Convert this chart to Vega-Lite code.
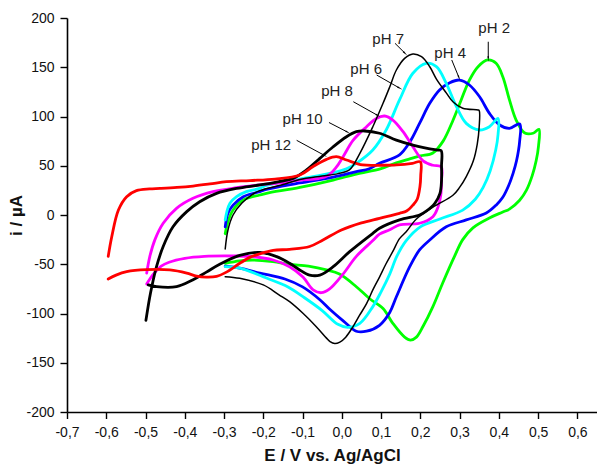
{
"$schema": "https://vega.github.io/schema/vega-lite/v6.json",
"width": 530, "height": 394,
"autosize": {"type": "none"},
"padding": {"left": 67, "top": 18, "right": 0, "bottom": 56},
"config": {"view": {"stroke": null}, "font": "Liberation Sans",
 "axis": {"domainColor": "#000", "domainWidth": 1.6, "tickColor": "#000", "tickWidth": 1.4, "labelColor": "#111", "labelFont": "Liberation Sans", "labelFontSize": 14, "titleFont": "Liberation Sans", "titleFontSize": 17, "titleFontWeight": "bold", "titleColor": "#111", "grid": false, "labelOverlap": false, "labelFlush": false}},
"datasets": {
"ann": [
 {"label": "pH 2", "tx": 0.388, "ty": 190, "x1": 0.373, "y1": 175.9, "x2": 0.373, "y2": 159.4, "g": "a180"},
 {"label": "pH 4", "tx": 0.276, "ty": 164.5, "x1": 0.28, "y1": 157.4, "x2": 0.298, "y2": 139.9, "g": "a157"},
 {"label": "pH 7", "tx": 0.118, "ty": 178.7, "x1": 0.1355, "y1": 174.3, "x2": 0.16, "y2": 164.6, "g": "a135"},
 {"label": "pH 6", "tx": 0.062, "ty": 148.2, "x1": 0.0888, "y1": 142.1, "x2": 0.146, "y2": 129.1, "g": "a118"},
 {"label": "pH 8", "tx": -0.012, "ty": 125.4, "x1": 0.0293, "y1": 115.0, "x2": 0.0906, "y2": 101.3, "g": "a118"},
 {"label": "pH 10", "tx": -0.1, "ty": 97.5, "x1": -0.0327, "y1": 93.9, "x2": 0.014, "y2": 84.3, "g": "a118"},
 {"label": "pH 12", "tx": -0.18, "ty": 70.6, "x1": -0.115, "y1": 75.8, "x2": -0.0451, "y2": 60.7, "g": "a118"}
],
"cv": [
{"ph":"pH 2","E":-0.297,"i":-19},{"ph":"pH 2","E":-0.29,"i":-6.8},{"ph":"pH 2","E":-0.277,"i":5},{"ph":"pH 2","E":-0.251,"i":15.2},{"ph":"pH 2","E":-0.209,"i":20.3},{"ph":"pH 2","E":-0.192,"i":22},{"ph":"pH 2","E":-0.107,"i":28},{"ph":"pH 2","E":-0.022,"i":35.5},{"ph":"pH 2","E":0.037,"i":41.6},{"ph":"pH 2","E":0.1,"i":47},{"ph":"pH 2","E":0.139,"i":53},{"ph":"pH 2","E":0.173,"i":57},{"ph":"pH 2","E":0.2,"i":60},{"ph":"pH 2","E":0.232,"i":63},{"ph":"pH 2","E":0.258,"i":75},{"ph":"pH 2","E":0.283,"i":96},{"ph":"pH 2","E":0.304,"i":116.8},{"ph":"pH 2","E":0.325,"i":137},{"ph":"pH 2","E":0.347,"i":150.6},{"ph":"pH 2","E":0.372,"i":157.4},{"ph":"pH 2","E":0.393,"i":154},{"ph":"pH 2","E":0.41,"i":140.4},{"ph":"pH 2","E":0.427,"i":116.8},{"ph":"pH 2","E":0.444,"i":96.4},{"ph":"pH 2","E":0.465,"i":83.5},{"ph":"pH 2","E":0.487,"i":83},{"ph":"pH 2","E":0.502,"i":87},
{"ph":"pH 2","E":0.501,"i":70},{"ph":"pH 2","E":0.495,"i":55},{"ph":"pH 2","E":0.485,"i":40},{"ph":"pH 2","E":0.47,"i":25},{"ph":"pH 2","E":0.453,"i":15},{"ph":"pH 2","E":0.427,"i":6},{"ph":"pH 2","E":0.41,"i":3},{"ph":"pH 2","E":0.376,"i":-3},{"ph":"pH 2","E":0.334,"i":-13},{"ph":"pH 2","E":0.308,"i":-25},{"ph":"pH 2","E":0.287,"i":-42},{"ph":"pH 2","E":0.257,"i":-69},{"ph":"pH 2","E":0.232,"i":-93},{"ph":"pH 2","E":0.207,"i":-113},{"ph":"pH 2","E":0.19,"i":-124},{"ph":"pH 2","E":0.175,"i":-127},{"ph":"pH 2","E":0.16,"i":-124},{"ph":"pH 2","E":0.13,"i":-110},{"ph":"pH 2","E":0.105,"i":-95},{"ph":"pH 2","E":0.071,"i":-85},{"ph":"pH 2","E":0.037,"i":-72.8},{"ph":"pH 2","E":-0.006,"i":-60},{"ph":"pH 2","E":-0.039,"i":-55.8},{"ph":"pH 2","E":-0.085,"i":-52},{"ph":"pH 2","E":-0.133,"i":-50},{"ph":"pH 2","E":-0.175,"i":-47.4},{"ph":"pH 2","E":-0.226,"i":-45.7},{"ph":"pH 2","E":-0.26,"i":-46.5},{"ph":"pH 2","E":-0.297,"i":-49},
{"ph":"pH 4","E":-0.297,"i":-12},{"ph":"pH 4","E":-0.29,"i":1.7},{"ph":"pH 4","E":-0.277,"i":10},{"ph":"pH 4","E":-0.251,"i":18.6},{"ph":"pH 4","E":-0.209,"i":23.7},{"ph":"pH 4","E":-0.192,"i":26},{"ph":"pH 4","E":-0.107,"i":32.5},{"ph":"pH 4","E":-0.022,"i":38.5},{"ph":"pH 4","E":0.037,"i":44},{"ph":"pH 4","E":0.07,"i":47},{"ph":"pH 4","E":0.096,"i":52.5},{"ph":"pH 4","E":0.147,"i":61},{"ph":"pH 4","E":0.173,"i":74},{"ph":"pH 4","E":0.198,"i":93},{"ph":"pH 4","E":0.224,"i":113.4},{"ph":"pH 4","E":0.249,"i":127},{"ph":"pH 4","E":0.275,"i":134.3},{"ph":"pH 4","E":0.3,"i":137},{"ph":"pH 4","E":0.325,"i":132},{"ph":"pH 4","E":0.351,"i":120},{"ph":"pH 4","E":0.376,"i":103.2},{"ph":"pH 4","E":0.402,"i":91.4},{"ph":"pH 4","E":0.427,"i":88},{"ph":"pH 4","E":0.453,"i":92.4},
{"ph":"pH 4","E":0.453,"i":75},{"ph":"pH 4","E":0.445,"i":55},{"ph":"pH 4","E":0.436,"i":42},{"ph":"pH 4","E":0.425,"i":30},{"ph":"pH 4","E":0.41,"i":18},{"ph":"pH 4","E":0.393,"i":10},{"ph":"pH 4","E":0.368,"i":2},{"ph":"pH 4","E":0.317,"i":-5},{"ph":"pH 4","E":0.266,"i":-12},{"ph":"pH 4","E":0.224,"i":-25.4},{"ph":"pH 4","E":0.198,"i":-35.5},{"ph":"pH 4","E":0.173,"i":-52.5},{"ph":"pH 4","E":0.139,"i":-83},{"ph":"pH 4","E":0.122,"i":-99},{"ph":"pH 4","E":0.096,"i":-112},{"ph":"pH 4","E":0.063,"i":-118},{"ph":"pH 4","E":0.037,"i":-118},{"ph":"pH 4","E":0.005,"i":-108},{"ph":"pH 4","E":-0.03,"i":-96},{"ph":"pH 4","E":-0.056,"i":-86},{"ph":"pH 4","E":-0.1,"i":-73},{"ph":"pH 4","E":-0.145,"i":-65},{"ph":"pH 4","E":-0.209,"i":-59},{"ph":"pH 4","E":-0.26,"i":-54},{"ph":"pH 4","E":-0.297,"i":-52},
{"ph":"pH 6","E":-0.297,"i":-5},{"ph":"pH 6","E":-0.293,"i":3},{"ph":"pH 6","E":-0.285,"i":11.9},{"ph":"pH 6","E":-0.268,"i":18.6},{"ph":"pH 6","E":-0.243,"i":23.7},{"ph":"pH 6","E":-0.209,"i":27},{"ph":"pH 6","E":-0.192,"i":30},{"ph":"pH 6","E":-0.107,"i":36.5},{"ph":"pH 6","E":-0.022,"i":43},{"ph":"pH 6","E":0.012,"i":47},{"ph":"pH 6","E":0.037,"i":52.5},{"ph":"pH 6","E":0.079,"i":66},{"ph":"pH 6","E":0.113,"i":86.3},{"ph":"pH 6","E":0.147,"i":116.8},{"ph":"pH 6","E":0.181,"i":143.9},{"ph":"pH 6","E":0.215,"i":154},{"ph":"pH 6","E":0.241,"i":150.6},{"ph":"pH 6","E":0.266,"i":133.7},{"ph":"pH 6","E":0.292,"i":110},{"ph":"pH 6","E":0.317,"i":93},{"ph":"pH 6","E":0.351,"i":86.3},{"ph":"pH 6","E":0.376,"i":89.6},{"ph":"pH 6","E":0.398,"i":98},
{"ph":"pH 6","E":0.398,"i":82},{"ph":"pH 6","E":0.392,"i":66},{"ph":"pH 6","E":0.378,"i":45},{"ph":"pH 6","E":0.36,"i":28},{"ph":"pH 6","E":0.34,"i":16},{"ph":"pH 6","E":0.308,"i":5},{"ph":"pH 6","E":0.25,"i":-4},{"ph":"pH 6","E":0.2,"i":-12},{"ph":"pH 6","E":0.164,"i":-26},{"ph":"pH 6","E":0.14,"i":-42},{"ph":"pH 6","E":0.122,"i":-60},{"ph":"pH 6","E":0.1,"i":-78},{"ph":"pH 6","E":0.079,"i":-93},{"ph":"pH 6","E":0.046,"i":-110},{"ph":"pH 6","E":0.015,"i":-114},{"ph":"pH 6","E":-0.01,"i":-111},{"ph":"pH 6","E":-0.05,"i":-97},{"ph":"pH 6","E":-0.095,"i":-84},{"ph":"pH 6","E":-0.137,"i":-73},{"ph":"pH 6","E":-0.192,"i":-64},{"ph":"pH 6","E":-0.26,"i":-54},{"ph":"pH 6","E":-0.297,"i":-52.5},
{"ph":"pH 7","E":-0.297,"i":-34.5},{"ph":"pH 7","E":-0.29,"i":-15.2},{"ph":"pH 7","E":-0.277,"i":0},{"ph":"pH 7","E":-0.255,"i":11.9},{"ph":"pH 7","E":-0.23,"i":20.3},{"ph":"pH 7","E":-0.209,"i":24.7},{"ph":"pH 7","E":-0.15,"i":31},{"ph":"pH 7","E":-0.107,"i":36},{"ph":"pH 7","E":-0.05,"i":39.5},{"ph":"pH 7","E":-0.01,"i":42},{"ph":"pH 7","E":0.02,"i":46},{"ph":"pH 7","E":0.046,"i":62.6},{"ph":"pH 7","E":0.079,"i":89.6},{"ph":"pH 7","E":0.105,"i":113.4},{"ph":"pH 7","E":0.122,"i":130},{"ph":"pH 7","E":0.139,"i":147.2},{"ph":"pH 7","E":0.16,"i":159},{"ph":"pH 7","E":0.181,"i":163.5},{"ph":"pH 7","E":0.203,"i":160.7},{"ph":"pH 7","E":0.224,"i":150.5},{"ph":"pH 7","E":0.241,"i":138},{"ph":"pH 7","E":0.266,"i":124},{"ph":"pH 7","E":0.283,"i":115},{"ph":"pH 7","E":0.308,"i":108.3},{"ph":"pH 7","E":0.347,"i":106.6},{"ph":"pH 7","E":0.35,"i":106},
{"ph":"pH 7","E":0.35,"i":90},{"ph":"pH 7","E":0.345,"i":72},{"ph":"pH 7","E":0.335,"i":55},{"ph":"pH 7","E":0.317,"i":39},{"ph":"pH 7","E":0.3,"i":28},{"ph":"pH 7","E":0.283,"i":20},{"ph":"pH 7","E":0.232,"i":8},{"ph":"pH 7","E":0.19,"i":-4},{"ph":"pH 7","E":0.164,"i":-17},{"ph":"pH 7","E":0.147,"i":-24},{"ph":"pH 7","E":0.13,"i":-37},{"ph":"pH 7","E":0.112,"i":-50},{"ph":"pH 7","E":0.096,"i":-63},{"ph":"pH 7","E":0.079,"i":-76},{"ph":"pH 7","E":0.063,"i":-90},{"ph":"pH 7","E":0.045,"i":-102},{"ph":"pH 7","E":0.029,"i":-113},{"ph":"pH 7","E":0.01,"i":-124},{"ph":"pH 7","E":-0.005,"i":-129},{"ph":"pH 7","E":-0.018,"i":-130.5},{"ph":"pH 7","E":-0.03,"i":-128.5},{"ph":"pH 7","E":-0.039,"i":-125},{"ph":"pH 7","E":-0.065,"i":-113.4},{"ph":"pH 7","E":-0.099,"i":-99.8},{"ph":"pH 7","E":-0.133,"i":-88},{"ph":"pH 7","E":-0.16,"i":-81},{"ph":"pH 7","E":-0.2,"i":-71},{"ph":"pH 7","E":-0.26,"i":-64.3},{"ph":"pH 7","E":-0.297,"i":-62.6},
{"ph":"pH 8","E":-0.497,"i":-59},{"ph":"pH 8","E":-0.489,"i":-42},{"ph":"pH 8","E":-0.476,"i":-25},{"ph":"pH 8","E":-0.455,"i":-8.4},{"ph":"pH 8","E":-0.421,"i":6.8},{"ph":"pH 8","E":-0.379,"i":17},{"ph":"pH 8","E":-0.328,"i":23.7},{"ph":"pH 8","E":-0.268,"i":27.7},{"ph":"pH 8","E":-0.209,"i":30.5},{"ph":"pH 8","E":-0.15,"i":33},{"ph":"pH 8","E":-0.107,"i":35.5},{"ph":"pH 8","E":-0.06,"i":37},{"ph":"pH 8","E":-0.035,"i":40},{"ph":"pH 8","E":-0.015,"i":48},{"ph":"pH 8","E":0.003,"i":59},{"ph":"pH 8","E":0.029,"i":76},{"ph":"pH 8","E":0.063,"i":89.6},{"ph":"pH 8","E":0.088,"i":98},{"ph":"pH 8","E":0.109,"i":100.5},{"ph":"pH 8","E":0.13,"i":96.4},{"ph":"pH 8","E":0.156,"i":84.6},{"ph":"pH 8","E":0.181,"i":69.3},{"ph":"pH 8","E":0.207,"i":55},{"ph":"pH 8","E":0.232,"i":50.5},{"ph":"pH 8","E":0.253,"i":49},
{"ph":"pH 8","E":0.254,"i":35.5},{"ph":"pH 8","E":0.252,"i":20},{"ph":"pH 8","E":0.245,"i":8},{"ph":"pH 8","E":0.232,"i":-1.7},{"ph":"pH 8","E":0.198,"i":-8.4},{"ph":"pH 8","E":0.147,"i":-10},{"ph":"pH 8","E":0.122,"i":-15},{"ph":"pH 8","E":0.096,"i":-19.5},{"ph":"pH 8","E":0.079,"i":-26},{"ph":"pH 8","E":0.037,"i":-42},{"ph":"pH 8","E":0.003,"i":-60},{"ph":"pH 8","E":-0.031,"i":-75},{"ph":"pH 8","E":-0.052,"i":-78.9},{"ph":"pH 8","E":-0.073,"i":-76},{"ph":"pH 8","E":-0.099,"i":-63},{"ph":"pH 8","E":-0.133,"i":-52.5},{"ph":"pH 8","E":-0.175,"i":-45.7},{"ph":"pH 8","E":-0.226,"i":-42.3},{"ph":"pH 8","E":-0.277,"i":-41.6},{"ph":"pH 8","E":-0.35,"i":-42},{"ph":"pH 8","E":-0.4,"i":-44},{"ph":"pH 8","E":-0.44,"i":-48},{"ph":"pH 8","E":-0.46,"i":-52},{"ph":"pH 8","E":-0.48,"i":-60},{"ph":"pH 8","E":-0.497,"i":-70},
{"ph":"pH 10","E":-0.499,"i":-107},{"ph":"pH 10","E":-0.49,"i":-85},{"ph":"pH 10","E":-0.484,"i":-72.8},{"ph":"pH 10","E":-0.472,"i":-52.5},{"ph":"pH 10","E":-0.455,"i":-32},{"ph":"pH 10","E":-0.43,"i":-12},{"ph":"pH 10","E":-0.395,"i":3.4},{"ph":"pH 10","E":-0.362,"i":13.5},{"ph":"pH 10","E":-0.319,"i":22},{"ph":"pH 10","E":-0.268,"i":27},{"ph":"pH 10","E":-0.209,"i":30.5},{"ph":"pH 10","E":-0.16,"i":34},{"ph":"pH 10","E":-0.124,"i":37.2},{"ph":"pH 10","E":-0.09,"i":45.7},{"ph":"pH 10","E":-0.056,"i":57.5},{"ph":"pH 10","E":-0.022,"i":69.3},{"ph":"pH 10","E":0.012,"i":79.5},{"ph":"pH 10","E":0.037,"i":84.6},{"ph":"pH 10","E":0.058,"i":85.3},{"ph":"pH 10","E":0.096,"i":83},{"ph":"pH 10","E":0.139,"i":76},{"ph":"pH 10","E":0.181,"i":71},{"ph":"pH 10","E":0.241,"i":66},{"ph":"pH 10","E":0.253,"i":65.3},
{"ph":"pH 10","E":0.254,"i":50},{"ph":"pH 10","E":0.254,"i":35},{"ph":"pH 10","E":0.25,"i":22},{"ph":"pH 10","E":0.237,"i":11.9},{"ph":"pH 10","E":0.215,"i":4},{"ph":"pH 10","E":0.198,"i":0},{"ph":"pH 10","E":0.147,"i":-5},{"ph":"pH 10","E":0.096,"i":-13.5},{"ph":"pH 10","E":0.079,"i":-18.6},{"ph":"pH 10","E":0.02,"i":-37.2},{"ph":"pH 10","E":-0.022,"i":-52.5},{"ph":"pH 10","E":-0.056,"i":-61},{"ph":"pH 10","E":-0.082,"i":-61},{"ph":"pH 10","E":-0.11,"i":-55},{"ph":"pH 10","E":-0.133,"i":-49},{"ph":"pH 10","E":-0.166,"i":-42.3},{"ph":"pH 10","E":-0.209,"i":-38},{"ph":"pH 10","E":-0.26,"i":-41},{"ph":"pH 10","E":-0.311,"i":-50},{"ph":"pH 10","E":-0.345,"i":-58},{"ph":"pH 10","E":-0.38,"i":-66},{"ph":"pH 10","E":-0.421,"i":-72.8},{"ph":"pH 10","E":-0.472,"i":-72.8},{"ph":"pH 10","E":-0.493,"i":-71},
{"ph":"pH 12","E":-0.595,"i":-42},{"ph":"pH 12","E":-0.586,"i":-22},{"ph":"pH 12","E":-0.569,"i":5},{"ph":"pH 12","E":-0.548,"i":18.6},{"ph":"pH 12","E":-0.523,"i":24.7},{"ph":"pH 12","E":-0.49,"i":26.5},{"ph":"pH 12","E":-0.463,"i":27},{"ph":"pH 12","E":-0.42,"i":28},{"ph":"pH 12","E":-0.379,"i":29.4},{"ph":"pH 12","E":-0.336,"i":31.5},{"ph":"pH 12","E":-0.294,"i":33.8},{"ph":"pH 12","E":-0.234,"i":35},{"ph":"pH 12","E":-0.17,"i":36.5},{"ph":"pH 12","E":-0.107,"i":40.6},{"ph":"pH 12","E":-0.074,"i":49},{"ph":"pH 12","E":-0.039,"i":56.5},{"ph":"pH 12","E":-0.014,"i":59.2},{"ph":"pH 12","E":0.012,"i":55.8},{"ph":"pH 12","E":0.053,"i":50.8},{"ph":"pH 12","E":0.1,"i":50.5},{"ph":"pH 12","E":0.139,"i":50.8},{"ph":"pH 12","E":0.18,"i":52.5},{"ph":"pH 12","E":0.2,"i":54},
{"ph":"pH 12","E":0.201,"i":40},{"ph":"pH 12","E":0.199,"i":28.7},{"ph":"pH 12","E":0.192,"i":16},{"ph":"pH 12","E":0.181,"i":10},{"ph":"pH 12","E":0.165,"i":4},{"ph":"pH 12","E":0.147,"i":1.7},{"ph":"pH 12","E":0.096,"i":-3.4},{"ph":"pH 12","E":0.05,"i":-8},{"ph":"pH 12","E":-0.001,"i":-15.2},{"ph":"pH 12","E":-0.048,"i":-25.4},{"ph":"pH 12","E":-0.082,"i":-32},{"ph":"pH 12","E":-0.133,"i":-34.8},{"ph":"pH 12","E":-0.175,"i":-36},{"ph":"pH 12","E":-0.209,"i":-39.5},{"ph":"pH 12","E":-0.234,"i":-43},{"ph":"pH 12","E":-0.26,"i":-49},{"ph":"pH 12","E":-0.294,"i":-58},{"ph":"pH 12","E":-0.319,"i":-62.3},{"ph":"pH 12","E":-0.345,"i":-63},{"ph":"pH 12","E":-0.37,"i":-62},{"ph":"pH 12","E":-0.395,"i":-59},{"ph":"pH 12","E":-0.438,"i":-55.8},{"ph":"pH 12","E":-0.497,"i":-55.5},{"ph":"pH 12","E":-0.548,"i":-57.5},{"ph":"pH 12","E":-0.575,"i":-61},{"ph":"pH 12","E":-0.595,"i":-65}
]},
"layer": [
 {"data": {"name": "cv"},
  "transform": [{"filter": "datum.ph !== 'pH 7'"}],
  "mark": {"type": "line", "interpolate": "catmull-rom", "strokeCap": "round", "strokeJoin": "round", "strokeWidth": 2.8},
  "encoding": {
   "x": {"field": "E", "type": "quantitative", "scale": {"domain": [-0.7, 0.65], "nice": false, "zero": false},
     "axis": {"title": "E / V vs. Ag/AgCl", "values": [-0.7,-0.65,-0.6,-0.55,-0.5,-0.45,-0.4,-0.35,-0.3,-0.25,-0.2,-0.15,-0.1,-0.05,0,0.05,0.1,0.15,0.2,0.25,0.3,0.35,0.4,0.45,0.5,0.55,0.6,0.65],
       "labelExpr": "abs(datum.value*10 - round(datum.value*10)) < 0.001 ? (datum.value < -0.0001 ? '-' : '') + replace(format(abs(datum.value), '.1f'), '.', ',') : ''",
       "tickSize": {"condition": {"test": "abs(datum.value*10 - round(datum.value*10)) < 0.001", "value": 6.5}, "value": 3.5},
       "labelPadding": 7, "titlePadding": 8}},
   "y": {"field": "i", "type": "quantitative", "scale": {"domain": [-200, 200], "nice": false, "zero": false},
     "axis": {"title": "i / µA", "values": [-200,-175,-150,-125,-100,-75,-50,-25,0,25,50,75,100,125,150,175,200],
       "labelExpr": "datum.value % 50 === 0 ? '' + datum.value : ''",
       "tickSize": {"condition": {"test": "datum.value % 50 === 0", "value": 7}, "value": 3.5},
       "labelPadding": 6, "titlePadding": 0}},
   "color": {"field": "ph", "type": "nominal", "scale": {"domain": ["pH 2","pH 4","pH 6","pH 7","pH 8","pH 10","pH 12"], "range": ["#00ff00","#0000ff","#00ffff","#000000","#ff00ff","#000000","#ff0000"]}, "legend": null},
   "order": {"value": null}
  }},
 {"data": {"name": "cv"},
  "transform": [{"filter": "datum.ph === 'pH 7'"}],
  "mark": {"type": "line", "interpolate": "catmull-rom", "strokeCap": "round", "strokeJoin": "round", "strokeWidth": 1.5, "color": "#000"},
  "encoding": {
   "x": {"field": "E", "type": "quantitative"},
   "y": {"field": "i", "type": "quantitative"},
   "order": {"value": null}
  }},
 {"data": {"name": "ann"}, "mark": {"type": "rule", "color": "#000", "strokeWidth": 1},
  "encoding": {"x": {"field": "x1", "type": "quantitative"}, "y": {"field": "y1", "type": "quantitative"}, "x2": {"field": "x2"}, "y2": {"field": "y2"}}},
 {"data": {"name": "ann"}, "transform": [{"filter": "datum.g === 'a180'"}], "mark": {"type": "point", "shape": "wedge", "filled": true, "color": "#000", "size": 40, "angle": 180, "opacity": 1},
  "encoding": {"x": {"field": "x2", "type": "quantitative"}, "y": {"field": "y2", "type": "quantitative"}}},
 {"data": {"name": "ann"}, "transform": [{"filter": "datum.g === 'a157'"}], "mark": {"type": "point", "shape": "wedge", "filled": true, "color": "#000", "size": 40, "angle": 157, "opacity": 1},
  "encoding": {"x": {"field": "x2", "type": "quantitative"}, "y": {"field": "y2", "type": "quantitative"}}},
 {"data": {"name": "ann"}, "transform": [{"filter": "datum.g === 'a135'"}], "mark": {"type": "point", "shape": "wedge", "filled": true, "color": "#000", "size": 40, "angle": 135, "opacity": 1},
  "encoding": {"x": {"field": "x2", "type": "quantitative"}, "y": {"field": "y2", "type": "quantitative"}}},
 {"data": {"name": "ann"}, "transform": [{"filter": "datum.g === 'a118'"}], "mark": {"type": "point", "shape": "wedge", "filled": true, "color": "#000", "size": 40, "angle": 118, "opacity": 1},
  "encoding": {"x": {"field": "x2", "type": "quantitative"}, "y": {"field": "y2", "type": "quantitative"}}},
 {"data": {"name": "ann"}, "mark": {"type": "text", "fontSize": 15, "color": "#222", "baseline": "middle", "align": "center"},
  "encoding": {"x": {"field": "tx", "type": "quantitative"}, "y": {"field": "ty", "type": "quantitative"}, "text": {"field": "label"}}}
]
}
